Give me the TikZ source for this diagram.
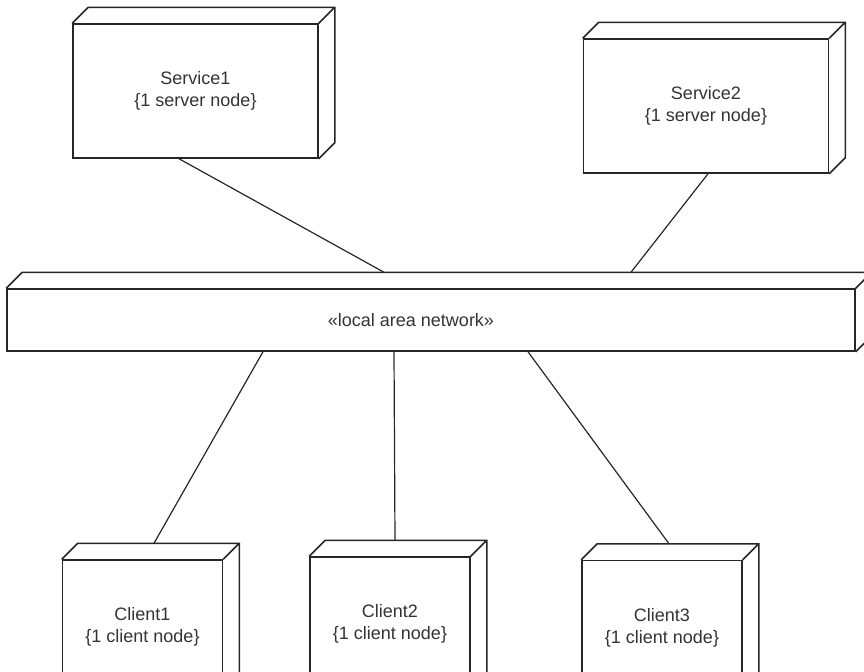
\documentclass[tikz,border=0pt]{standalone}
\usepackage{fontspec}
\setmainfont{Liberation Sans}

\begin{document}
\begin{tikzpicture}[x=0.5pt, y=-0.5pt, line width=0.75pt, draw=black!85,
    box/.style = {draw, rectangle, inner sep=0pt, align=center, text=black!80, font=\fontsize{9}{11}\selectfont},
    server/.style = {box, minimum width=122.5pt, minimum height=67pt},
    client/.style = {box, minimum width=80pt, minimum height=67pt},
    link/.style = {line width=0.6pt}]
    \clip (0,0) rectangle (864,671);

    \node[server] (svc1) at (195.5,91) {Service1\\\{1 server node\}};
    \node[server] (svc2) at (706,106) {Service2\\\{1 server node\}};
    \node[box, minimum width=424pt, minimum height=31pt,
          label={[text=black!80, font=\fontsize{9}{11}\selectfont, xshift=-10pt]center:«local area network»}] (lan) at (431,320) {};
    \node[client] (cl1) at (142.5,627) {Client1\\\{1 client node\}};
    \node[client] (cl2) at (390,624) {Client2\\\{1 client node\}};
    \node[client] (cl3) at (662,627.5) {Client3\\\{1 client node\}};

    % depth faces of the boxes
    \foreach \n in {svc1,svc2,lan,cl1,cl2,cl3}
        \draw (\n.north west) -- ++(8pt,8pt) -- ([shift={(8pt,8pt)}]\n.north east)
              -- ([shift={(8pt,8pt)}]\n.south east) -- (\n.south east)
              (\n.north east) -- ++(8pt,8pt);

    \path[link] ([xshift=-8.25pt]svc1.south) edge ([shift={(-23.5pt,8pt)}]lan.north);
    \path[link] ([xshift=1pt]svc2.south) edge ([shift={(100pt,8pt)}]lan.north);
    \path[link] ([xshift=-84pt]lan.south) edge ([shift={(5.75pt,8pt)}]cl1.north);
    \path[link] ([xshift=-18.5pt]lan.south) edge ([shift={(2.5pt,8pt)}]cl2.north);
    \path[link] ([xshift=48.5pt]lan.south) edge ([shift={(3.5pt,8pt)}]cl3.north);
\end{tikzpicture}
\end{document}
